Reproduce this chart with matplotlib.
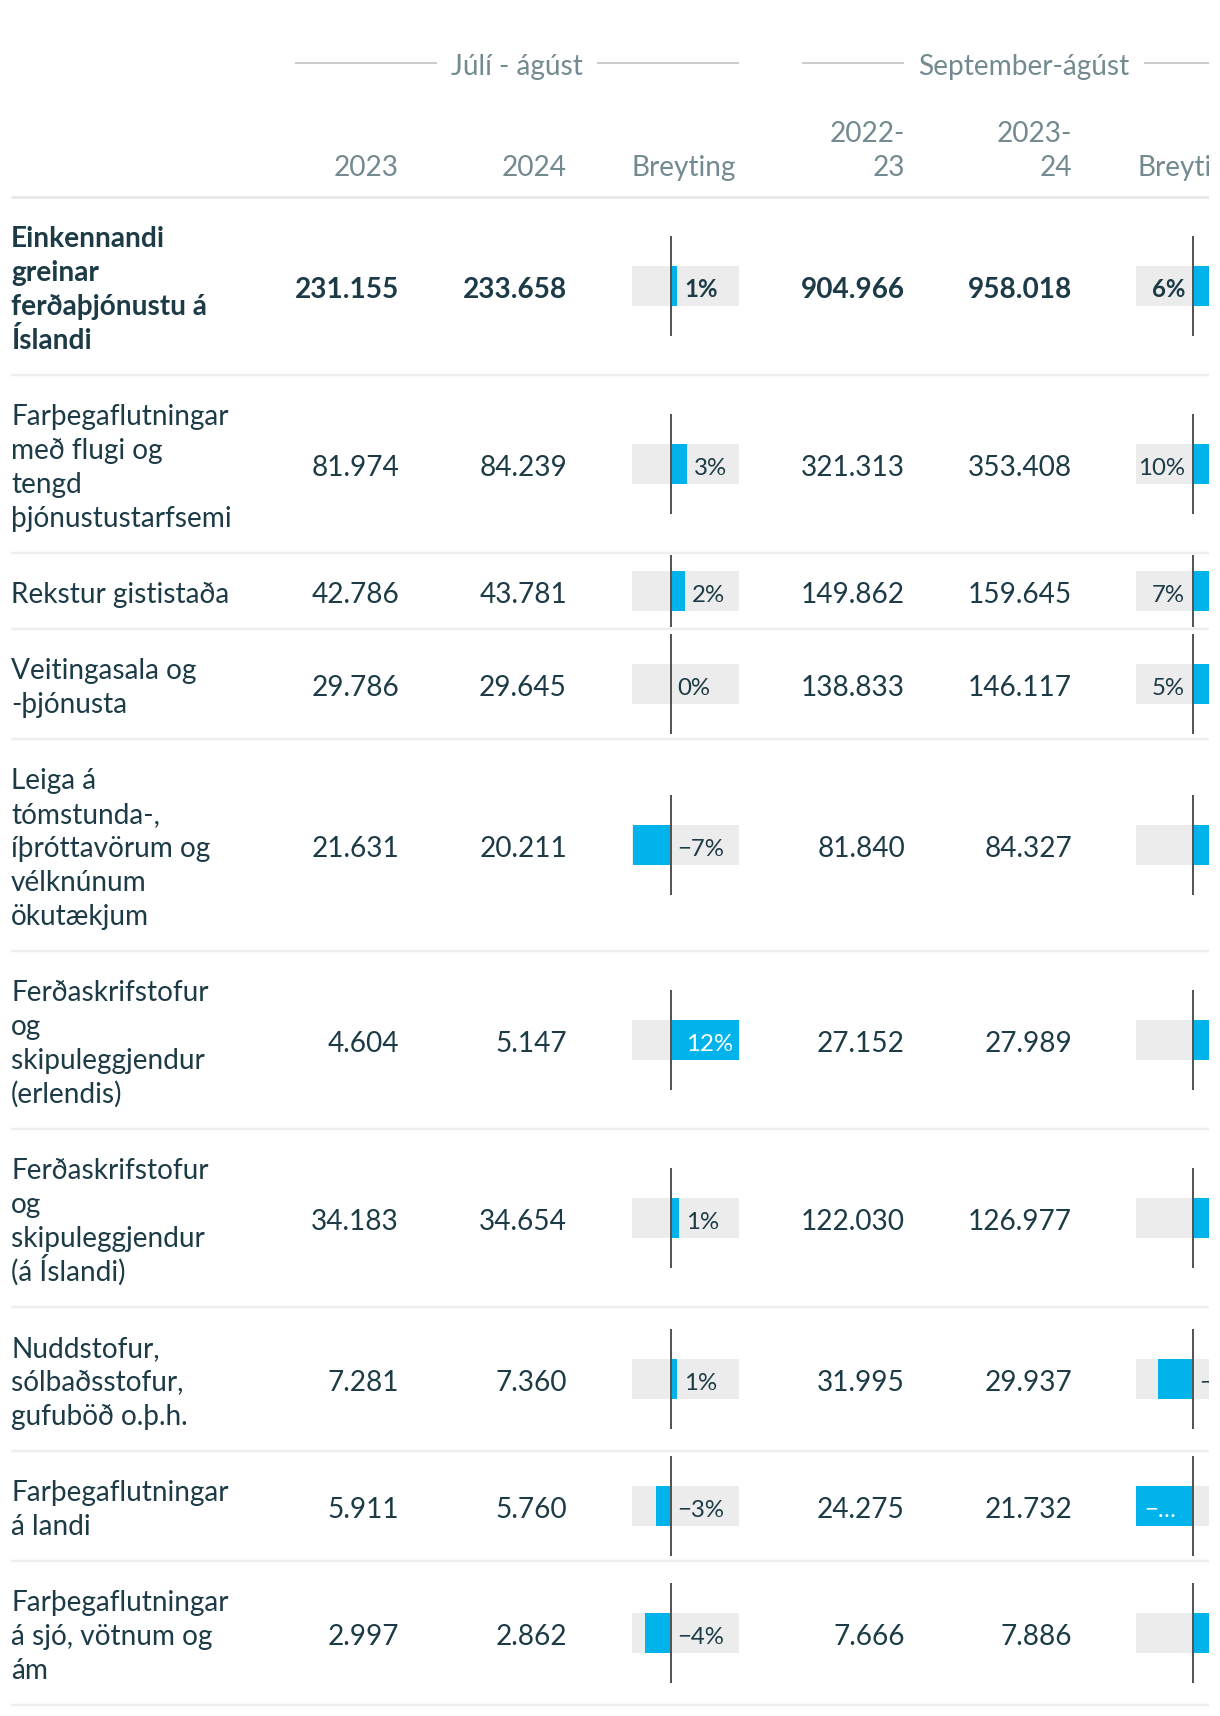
import matplotlib
matplotlib.use("Agg")
import matplotlib.pyplot as plt
import matplotlib.transforms as mtransforms
import numpy as np

plt.rcParams['font.family'] = ['Lato', 'DejaVu Sans']

# ---------------- data ----------------
labels = [
    "Einkennandi\ngreinar\nferðaþjónustu á\nÍslandi",
    "Farþegaflutningar\nmeð flugi og\ntengd\nþjónustustarfsemi",
    "Rekstur gististaða",
    "Veitingasala og\n-þjónusta",
    "Leiga á\ntómstunda-,\níþróttavörum og\nvélknúnum\nökutækjum",
    "Ferðaskrifstofur\nog\nskipuleggjendur\n(erlendis)",
    "Ferðaskrifstofur\nog\nskipuleggjendur\n(á Íslandi)",
    "Nuddstofur,\nsólbaðsstofur,\ngufuböð o.þ.h.",
    "Farþegaflutningar\ná landi",
    "Farþegaflutningar\ná sjó, vötnum og\nám",
]
jul_2023 = [231155, 81974, 42786, 29786, 21631, 4604, 34183, 7281, 5911, 2997]
jul_2024 = [233658, 84239, 43781, 29645, 20211, 5147, 34654, 7360, 5760, 2862]
jul_change = [1.08, 2.76, 2.33, -0.2, -6.56, 11.79, 1.38, 1.09, -2.6, -4.4]
sep_2223 = [904966, 321313, 149862, 138833, 81840, 27152, 122030, 31995, 24275, 7666]
sep_2324 = [958018, 353408, 159645, 146117, 84327, 27989, 126977, 29937, 21732, 7886]
sep_change = [5.86, 9.99, 6.53, 5.25, 3.04, 3.08, 4.05, -6.43, -10.48, 2.87]
group_titles = ["Júlí - ágúst", "September-ágúst"]
col_headers = ["2023", "2024", "Breyting", "2022-\n23", "2023-\n24", "Breyting"]

# ---------------- style / layout ----------------
W, H = 1220, 1716
CLIP_X = 1209
DARK = "#1c3b46"
GREY_TXT = "#728a90"
BLUE = "#00b4eb"
BG = "#ececec"
SEP = "#eeeeee"
ZERO = "#555555"
PX = 0.72  # px -> pt at dpi 100
FS = 28 * PX
FS_SMALL = 24 * PX
LINE_H = 34

fig = plt.figure(figsize=(W / 100, H / 100), dpi=100)
fig.patch.set_facecolor("white")
ax = fig.add_axes([0, 0, CLIP_X / W, 1])
ax.set_xlim(0, CLIP_X)
ax.set_ylim(H, 0)
ax.axis("off")


def txt(a, x, ycenter, s, ha, color=DARK, fs=FS, weight="normal", **kw):
    return a.text(x, ycenter + 0.358 * fs / PX + 2, s, ha=ha, va="baseline", color=color,
                  fontsize=fs, fontweight=weight, clip_on=True, **kw)


# group headers
group_spans = [(295, 739), (802, 1246)]
GROUP_Y = 63
gtexts = []
for (x0, x1), title in zip(group_spans, group_titles):
    gtexts.append(txt(ax, (x0 + x1) / 2, GROUP_Y, title, "center", color=GREY_TXT))

# column headers
num_right = [399, 567, 905, 1072]
bar_left = [632, 1137]
hdr_x = [num_right[0], num_right[1], bar_left[0], num_right[2], num_right[3], bar_left[1]]
hdr_ha = ["right", "right", "left", "right", "right", "left"]
HDR_BOTTOM_Y = 164
for x, h, ha in zip(hdr_x, col_headers, hdr_ha):
    lines = h.split("\n")
    for i, ln in enumerate(lines):
        yc = HDR_BOTTOM_Y - (len(lines) - 1 - i) * LINE_H
        txt(ax, x, yc, ln, ha, color=GREY_TXT)

HEADER_LINE_Y = 197
ax.plot([11, CLIP_X], [HEADER_LINE_Y, HEADER_LINE_Y], color="#e8e8e8", lw=3 * PX,
        solid_capstyle="butt")

# rows
n_lines = [len(l.split("\n")) for l in labels]
row_h = [LINE_H * n + 42 for n in n_lines]
tops = HEADER_LINE_Y + np.concatenate([[0], np.cumsum(row_h)[:-1]])
bottoms = tops + np.array(row_h)
centers = (tops + bottoms) / 2

for i, lab in enumerate(labels):
    w = "bold" if i == 0 else "normal"
    lines = lab.split("\n")
    n = len(lines)
    for j, ln in enumerate(lines):
        yc = centers[i] + (j - (n - 1) / 2) * LINE_H
        txt(ax, 11, yc, ln, "left", weight=w)
    for x, arr in zip(num_right, [jul_2023, jul_2024, sep_2223, sep_2324]):
        s = f"{arr[i]:,}".replace(",", ".")
        txt(ax, x, centers[i], s, "right", weight=w)
    ax.plot([11, CLIP_X], [bottoms[i], bottoms[i]], color=SEP, lw=2.5 * PX,
            solid_capstyle="butt")


def pct_label(v):
    r = int(round(v))
    if r == 0:
        return "0%"
    return ("−" if r < 0 else "") + f"{abs(r)}%"


def bar_axes(x_left_px, x_right_px, zero_px, px_per_pct):
    bax = fig.add_axes([x_left_px / W, 0, (x_right_px - x_left_px) / W, 1])
    bax.set_xlim(-(zero_px - x_left_px) / px_per_pct, (x_right_px - zero_px) / px_per_pct)
    bax.set_ylim(H, 0)
    bax.axis("off")
    return bax


BOX_H = 40
zl = np.minimum(100, np.array(row_h) - 4)
zeros = np.zeros(len(centers))

# column 1 bars
ax1 = bar_axes(632, 739, 671, 5.8)
xmin1, xmax1 = ax1.get_xlim()
ax1.barh(centers, xmax1 - xmin1, left=xmin1, height=BOX_H, color=BG, zorder=1)
ax1.barh(centers, jul_change, left=0, height=BOX_H, color=BLUE, zorder=2)
ax1.vlines(zeros, centers - zl / 2, centers + zl / 2, color=ZERO, lw=2 * PX, zorder=3)
for i, v in enumerate(jul_change):
    w = "bold" if i == 0 else "normal"
    s = pct_label(v)
    if v > 10:
        tr = mtransforms.offset_copy(ax1.transData, fig, x=-6, y=0, units="dots")
        txt(ax1, v, centers[i], s, "right", color="white", fs=FS_SMALL, weight=w, transform=tr)
    elif v > 0:
        tr = mtransforms.offset_copy(ax1.transData, fig, x=7, y=0, units="dots")
        txt(ax1, v, centers[i], s, "left", fs=FS_SMALL, weight=w, transform=tr)
    else:
        tr = mtransforms.offset_copy(ax1.transData, fig, x=6, y=0, units="dots")
        txt(ax1, 0, centers[i], s, "left", fs=FS_SMALL, weight=w, transform=tr)

# column 2 bars (table is cut off at the right edge)
ax2 = bar_axes(1136, CLIP_X, 1193, 5.43)
xmin2, xmax2 = ax2.get_xlim()
ax2.barh(centers, xmax2 - xmin2 + 20, left=xmin2, height=BOX_H, color=BG, zorder=1)
ax2.barh(centers, sep_change, left=0, height=BOX_H, color=BLUE, zorder=2)
ax2.vlines(zeros, centers - zl / 2, centers + zl / 2, color=ZERO, lw=2 * PX, zorder=3)
for i, v in enumerate(sep_change):
    w = "bold" if i == 0 else "normal"
    s = pct_label(v)
    if v >= 5:
        tr = mtransforms.offset_copy(ax2.transData, fig, x=-8, y=0, units="dots")
        txt(ax2, 0, centers[i], s, "right", fs=FS_SMALL, weight=w, transform=tr)
    elif v <= -10:
        tr = mtransforms.offset_copy(ax2.transData, fig, x=8, y=0, units="dots")
        txt(ax2, v, centers[i], "−…", "left", color="white", fs=FS_SMALL, weight=w, transform=tr)
    elif v < 0:
        tr = mtransforms.offset_copy(ax2.transData, fig, x=6, y=0, units="dots")
        txt(ax2, 0, centers[i], s, "left", fs=FS_SMALL, weight=w, transform=tr)

# group header rules around titles
fig.canvas.draw()
inv = ax.transData.inverted()
for (x0, x1), t in zip(group_spans, gtexts):
    bb = t.get_window_extent()
    lx = inv.transform((bb.x0, 0))[0]
    rx = inv.transform((bb.x1, 0))[0]
    ax.plot([x0, lx - 14], [GROUP_Y, GROUP_Y], color="#cccccc", lw=2 * PX, solid_capstyle="butt")
    ax.plot([rx + 14, x1], [GROUP_Y, GROUP_Y], color="#cccccc", lw=2 * PX, solid_capstyle="butt")

fig.savefig("out.png", dpi=100)
